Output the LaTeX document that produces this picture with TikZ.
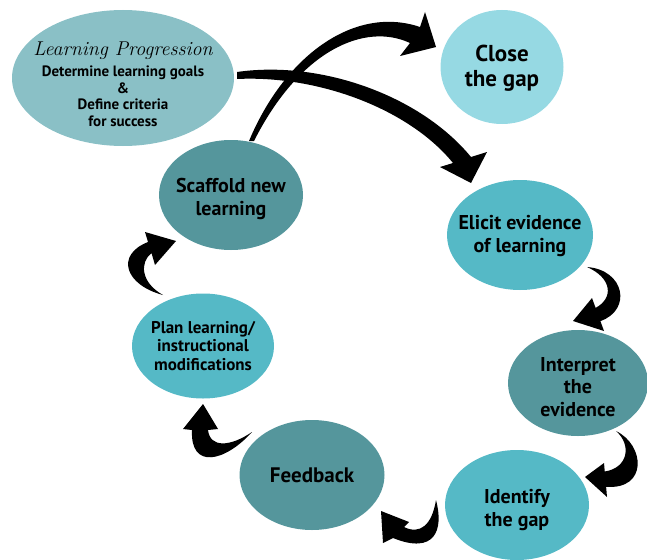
\documentclass[tikz,border=0pt]{standalone}
\usepackage{fontspec}
\setsansfont{PT Sans}
\usetikzlibrary{shapes.geometric}
\definecolor{lpc}{HTML}{8AC0C6}
\definecolor{lightc}{HTML}{96D9E3}
\definecolor{midc}{HTML}{55B9C6}
\definecolor{darkc}{HTML}{55969C}
\begin{document}
\begin{tikzpicture}[x=1pt,y=-1pt,
  bub/.style={ellipse, inner sep=0pt},
  txt/.style={align=center, text=black, inner sep=0pt,
    font=\sffamily\bfseries\fontsize{20}{22.5}\selectfont},
  arr/.style={fill=black}]
\useasboundingbox (0,0) rectangle (647,559);
% nodes
\node[bub, fill=lpc, minimum width=222pt, minimum height=136pt,
  label={[txt, yshift=-6pt, font=\sffamily\bfseries\fontsize{15}{16.5}\selectfont]center:{{\rmfamily\mdseries\itshape\fontsize{20}{22}\selectfont Learning Progression}\\[5pt]
   Determine learning goals\\ \&\\ Define criteria\\ for success}}] (lp) at (123,78) {};
\node[bub, fill=lightc, minimum width=123pt, minimum height=114pt,
  label={[txt, yshift=-1pt, font=\sffamily\bfseries\fontsize{23}{25}\selectfont]center:{Close\\the gap}}] (close) at (502,67) {};
\node[bub, fill=midc, minimum width=146pt, minimum height=110pt,
  label={[txt, yshift=-1pt]center:{Elicit evidence\\of learning}}] (elicit) at (520,235) {};
\node[bub, fill=darkc, minimum width=144pt, minimum height=110pt,
  label={[txt, yshift=-4pt]center:{Scaffold new\\learning}}] (scaffold) at (231,195) {};
\node[bub, fill=midc, minimum width=142pt, minimum height=105pt,
  label={[txt, font=\sffamily\bfseries\fontsize{17}{18.5}\selectfont]center:{Plan learning/\\instructional\\modifications}}] (plan) at (203,346) {};
\node[bub, fill=darkc, minimum width=140pt, minimum height=106pt,
  label={[txt, yshift=-4pt]center:{Interpret\\the\\evidence}}] (interp) at (578,383) {};
\node[bub, fill=midc, minimum width=144pt, minimum height=110pt,
  label={[txt, yshift=-5pt]center:{Identify\\the gap}}] (identify) at (517,505) {};
\node[bub, fill=darkc, minimum width=145pt, minimum height=110pt,
  label={[txt, font=\sffamily\bfseries\fontsize{21}{22}\selectfont]center:{Feedback}}] (feedback) at (312,475) {};
% arrow Scaffold -> Close the gap
\fill[arr] (249,141) .. controls (285,55) and (355,5) .. (420,27)
  -- (425,12) -- (436,47) -- (400,56) -- (410,43)
  .. controls (365,22) and (300,50) .. (254,141) -- cycle;
% arrow Learning Progression -> Elicit
\fill[arr] (237,72) .. controls (320,60) and (420,95) .. (471,157)
  -- (487,152) -- (471,183) -- (440,167) -- (453,163)
  .. controls (410,110) and (320,75) .. (237,79) -- cycle;
% Elicit -> Interpret
\fill[arr] (587,267) .. controls (625,270) and (632,310) .. (600.4,321.1)
  -- (604,331) -- (573,321) -- (592,298) -- (595.6,307.9)
  .. controls (614,298) and (612,278) .. (587,267) -- cycle;
% Interpret -> Identify
\fill[arr] (616,431) .. controls (645,445) and (648,490) .. (606.1,486.8)
  -- (607,497) -- (585,477) -- (604,463) -- (604.75,471.5)
  .. controls (628,468) and (632,445) .. (616,431) -- cycle;
% Identify -> Feedback
\fill[arr] (436,500) .. controls (444,530) and (435,555) .. (393,538)
  -- (383,543) -- (381,511) -- (409,522) -- (404,527)
  .. controls (420,535) and (432,525) .. (436,500) -- cycle;
% Feedback -> Plan
\fill[arr] (252,432) .. controls (225,462) and (190,470) .. (192,430)
  -- (183,429) -- (203,404) -- (218,429) -- (208,430)
  .. controls (210,448) and (230,447) .. (252,432) -- cycle;
% Plan -> Scaffold
\fill[arr] (163,295) .. controls (125,285) and (115,255) .. (148,242)
  -- (145,232) -- (176,241) -- (155,265) -- (151.5,253)
  .. controls (140,262) and (140,282) .. (163,295) -- cycle;
\end{tikzpicture}
\end{document}
